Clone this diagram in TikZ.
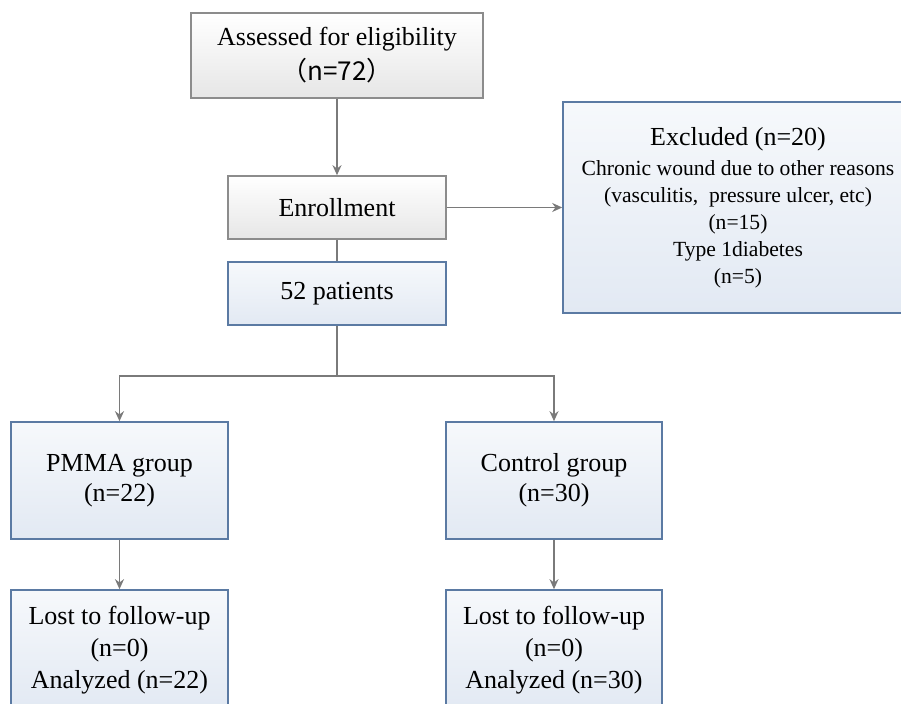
\documentclass[tikz,border=0pt]{standalone}
\usepackage{fontspec}
\setmainfont{Liberation Serif}
\newfontfamily\cjk{Noto Sans CJK SC}
\usetikzlibrary{arrows.meta}
\definecolor{greyline}{HTML}{8C8C8C}
\definecolor{greyfill}{HTML}{E6E6E6}
\definecolor{blueline}{HTML}{5B7AA3}
\definecolor{bluefill}{HTML}{E2E9F3}
\definecolor{connc}{HTML}{7A7A7A}
\newcommand\smallexcl{\fontsize{10.8}{13.5}\selectfont}
\begin{document}
\begin{tikzpicture}[x=0.5pt,y=-0.5pt,
  box/.style={rectangle, line width=0.8pt, inner sep=0pt, align=center,
    font=\fontsize{13}{16}\selectfont},
  greybox/.style={box, draw=greyline, top color=white, bottom color=greyfill},
  bluebox/.style={box, draw=blueline, top color=white!70!bluefill, bottom color=bluefill},
  conn/.style={draw=connc, line width=0.8pt},
  arr/.style={conn, -{Stealth[length=5pt,width=4.5pt]}}]
\useasboundingbox (0,0) rectangle (901,704);
\clip (0,0) rectangle (901,704);

\node[greybox, minimum width=146pt, minimum height=42.5pt] (assess) at (337,55.5)
  {Assessed for eligibility\\[1.5pt]\cjk{（}n=72\cjk{）}};
\node[greybox, minimum width=109pt, minimum height=31.5pt] (enroll) at (337,207.5) {Enrollment};
\node[bluebox, minimum width=109pt, minimum height=31.5pt] (pts) at (337,293.5) {52 patients};
\node[bluebox, minimum width=175pt, minimum height=105.5pt] (excl) at (738,207.5)
  {Excluded (n=20)\\[-1pt]
   \smallexcl Chronic wound due to other reasons\\[-2.5pt]
   \smallexcl (vasculitis,\ \ pressure ulcer, etc)\\[-2.5pt]
   \smallexcl (n=15)\\[-2.5pt]
   \smallexcl Type 1diabetes\\[-2.5pt]
   \smallexcl (n=5)};
\node[bluebox, minimum width=108.5pt, minimum height=58.5pt] (pmma) at (119.5,480.5)
  {PMMA group\\[-1pt](n=22)};
\node[bluebox, minimum width=108pt, minimum height=58.5pt] (ctrl) at (554,480.5)
  {Control group\\[-1pt](n=30)};
\node[bluebox, minimum width=108.5pt, minimum height=60pt] (lost1) at (119.5,650)
  {Lost to follow-up\\(n=0)\\Analyzed (n=22)};
\node[bluebox, minimum width=108pt, minimum height=60pt] (lost2) at (554,650)
  {Lost to follow-up\\(n=0)\\Analyzed (n=30)};

\coordinate (split) at (337,376);
\draw[arr] (assess) -- (enroll);
\draw[conn] (enroll) -- (pts);
\draw[arr] (enroll) -- (excl);
\draw[conn] (pts) -- (split);
\draw[arr] (split) -| (pmma);
\draw[arr] (split) -| (ctrl);
\draw[arr] (pmma) -- (lost1);
\draw[arr] (ctrl) -- (lost2);
\end{tikzpicture}
\end{document}
